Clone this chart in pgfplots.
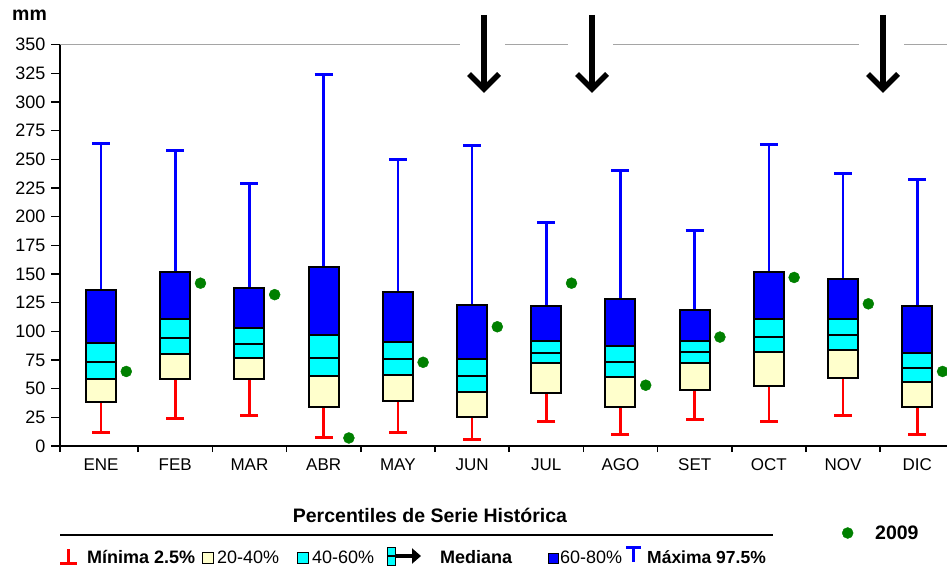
\documentclass[border=0pt]{standalone}
\usepackage{pgfplots}
\pgfplotsset{compat=1.18}
\usepackage{pgfplotstable}
\usetikzlibrary{arrows.meta}
\usepackage{fontspec}
\setmainfont{Liberation Sans}

\definecolor{boxyel}{RGB}{255,255,204}
\definecolor{boxcyan}{RGB}{0,255,255}
\definecolor{boxblue}{RGB}{0,0,255}
\definecolor{dotgreen}{RGB}{0,128,0}
\definecolor{topgray}{RGB}{165,165,165}

% percentiles per month (mm)
\pgfplotstableread{
m  p2 p20 p40 p50 p60 p80 p97 y2009
1  12 38  58  73  90  136 264 65
2  24 58  80  94  111 152 258 142
3  27 58  77  89  103 138 229 132
4  7  34  61  77  97  156 324 7
5  12 39  62  76  91  134 250 73
6  6  25  47  61  76  123 262 104
7  21 46  72  81  92  122 195 142
8  10 34  60  73  87  128 240 53
9  23 49  72  82  92  119 188 95
10 21 52  82  95  111 152 263 147
11 27 59  84  97  111 146 238 124
12 10 34  56  68  81  122 232 65
}\pct

\pgfplotsset{
  base/.style={
    scale only axis, width=887pt, height=401.3pt,
    at={(0pt,0pt)}, anchor=south west,
    xmin=0.447, xmax=12.4, ymin=0, ymax=350, clip=false,
  },
}

\begin{document}
\begin{tikzpicture}[font=\fontsize{18}{21}\selectfont]

% whiskers and 2009 values
\begin{axis}[base, hide axis,
  legend style={draw=none, fill=none, inner sep=0pt, anchor=west,
    at={(0.8816,-0.2168)}, font=\bfseries\fontsize{19.5}{22}\selectfont},
]
\addplot[draw=none, forget plot,
  error bars/.cd, y dir=minus, y explicit, error mark=|,
  error bar style={draw=red, line width=2.6pt},
  error mark options={draw=red, line width=3pt, mark size=9pt}]
  table[x=m, y=p20, y error minus expr=\thisrow{p20}-\thisrow{p2}] {\pct};
\addplot[draw=none, forget plot,
  error bars/.cd, y dir=plus, y explicit, error mark=|,
  error bar style={draw=boxblue, line width=2.6pt},
  error mark options={draw=boxblue, line width=3pt, mark size=9pt}]
  table[x=m, y=p80, y error plus expr=\thisrow{p97}-\thisrow{p80}] {\pct};
\addplot[only marks, mark=*, mark size=5.5pt, color=dotgreen]
  table[x expr=\thisrow{m}+0.34, y=y2009] {\pct};
\addlegendentry{\hspace{20pt}2009}
\end{axis}

% boxes
\begin{axis}[base, ybar stacked, bar width=30pt,
  axis x line*=bottom, axis y line*=left,
  axis line style={line width=1.5pt},
  ytick={0,25,...,350}, tick align=outside,
  /pgf/number format/assume math mode=true,
  major tick length=9pt,
  y tick style={line width=1.5pt, black},
  xtick={1,...,12},
  xticklabels={ENE,FEB,MAR,ABR,MAY,JUN,JUL,AGO,SET,OCT,NOV,DIC},
  x tick style={draw=none},
  minor xtick={0.447,1.5,2.5,3.5,4.5,5.5,6.5,7.5,8.5,9.5,10.5,11.5},
  minor x tick style={draw=black, line width=1.5pt},
  minor tick length=6pt,
  x tick label style={font=\fontsize{17}{20}\selectfont},
  y tick label style={font=\fontsize{18}{21}\selectfont, xshift=-2pt},
]
\addplot[draw=none, fill=none] table[x=m, y=p20] {\pct};
\addplot[fill=boxyel, draw=black, line width=2pt]
  table[x=m, y expr=\thisrow{p40}-\thisrow{p20}] {\pct};
\addplot[fill=boxcyan, draw=black, line width=2pt]
  table[x=m, y expr=\thisrow{p50}-\thisrow{p40}] {\pct};
\addplot[fill=boxcyan, draw=black, line width=2pt]
  table[x=m, y expr=\thisrow{p60}-\thisrow{p50}] {\pct};
\addplot[fill=boxblue, draw=black, line width=2pt]
  table[x=m, y expr=\thisrow{p80}-\thisrow{p60}] {\pct};
\end{axis}

% top border with gaps for the arrows
\draw[topgray, line width=1.5pt] (0pt,401.3pt) -- (400pt,401.3pt)
  (445pt,401.3pt) -- (508pt,401.3pt)
  (553pt,401.3pt) -- (799pt,401.3pt)
  (844pt,401.3pt) -- (887pt,401.3pt);
\foreach \ax in {424,532,823}{
  \draw[line width=6pt] (\ax pt,431pt) -- (\ax pt,360pt);
  \draw[line width=5.5pt, miter limit=10] (\ax pt-15pt,372pt) -- (\ax pt,357pt) -- (\ax pt+15pt,372pt);
}

\node[anchor=base west, inner sep=0pt, font=\bfseries\fontsize{19.5}{22}\selectfont] at (-48pt,425pt) {mm};

% legend
\node[anchor=base, inner sep=0pt, font=\bfseries\fontsize{19.5}{22}\selectfont] at (370pt,-76.5pt) {Percentiles de Serie Histórica};
\draw[line width=1.5pt] (0pt,-89pt) -- (713pt,-89pt);

\draw[red, line width=3pt] (8.5pt,-103pt) -- (8.5pt,-117pt);
\draw[red, line width=3pt] (0pt,-117pt) -- (17pt,-117pt);
\node[anchor=base west, inner sep=0pt, font=\bfseries\fontsize{18}{21}\selectfont] at (27pt,-117.5pt) {Mínima 2.5\%};

\draw[fill=boxyel, line width=1pt] (142pt,-117pt) rectangle (153pt,-106pt);
\node[anchor=base west, inner sep=0pt] at (157pt,-117.5pt) {20-40\%};

\draw[fill=boxcyan, line width=1pt] (237pt,-117pt) rectangle (248pt,-106pt);
\node[anchor=base west, inner sep=0pt] at (252pt,-117.5pt) {40-60\%};

\draw[fill=boxcyan, line width=1pt] (327pt,-119pt) rectangle (335pt,-101pt);
\draw[line width=2pt] (327pt,-110pt) -- (335pt,-110pt);
\draw[line width=4pt, -{Triangle[length=9pt,width=15pt]}] (336pt,-110pt) -- (361pt,-110pt);
\node[anchor=base west, inner sep=0pt, font=\bfseries\fontsize{18}{21}\selectfont] at (380pt,-117.5pt) {Mediana};

\draw[fill=boxblue, line width=1pt] (488pt,-117pt) rectangle (498pt,-107pt);
\node[anchor=base west, inner sep=0pt] at (500pt,-117.5pt) {60-80\%};

\draw[boxblue, line width=3pt] (566pt,-101pt) -- (581pt,-101pt);
\draw[boxblue, line width=3pt] (573.5pt,-101pt) -- (573.5pt,-116pt);
\node[anchor=base west, inner sep=0pt, font=\bfseries\fontsize{17.5}{21}\selectfont] at (587pt,-117.5pt) {Máxima 97.5\%};

\pgfresetboundingbox
\useasboundingbox (-60pt,-121pt) rectangle (887pt,446pt);
\end{tikzpicture}
\end{document}
